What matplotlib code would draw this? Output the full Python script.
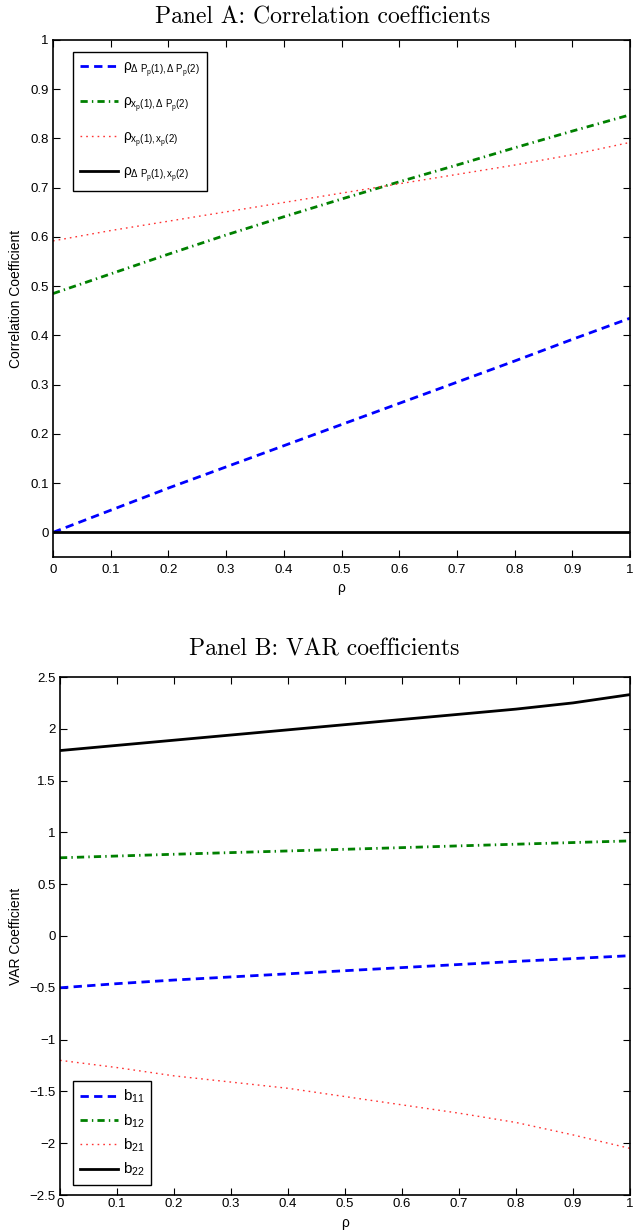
import numpy as np
import matplotlib
matplotlib.use("Agg")
import matplotlib.pyplot as plt
from matplotlib.ticker import FuncFormatter, MultipleLocator

plt.rcParams['font.family'] = ['Liberation Sans', 'DejaVu Sans']
plt.rcParams['mathtext.fontset'] = 'custom'
plt.rcParams['mathtext.rm'] = 'Liberation Sans'
plt.rcParams['mathtext.it'] = 'Liberation Sans'
plt.rcParams['mathtext.bf'] = 'Liberation Sans'

# ---------------- data ----------------
rho = [0.0, 0.1, 0.2, 0.3, 0.4, 0.5, 0.6, 0.7, 0.8, 0.9, 1.0]

# Panel A: correlation coefficients
corr_dP_dP = [0.0, 0.045, 0.09, 0.133, 0.176, 0.219, 0.262, 0.305, 0.348, 0.392, 0.435]
corr_x_dP = [0.485, 0.525, 0.565, 0.604, 0.641, 0.677, 0.712, 0.746, 0.781, 0.815, 0.848]
corr_x_x = [0.592, 0.613, 0.632, 0.651, 0.670, 0.689, 0.708, 0.727, 0.746, 0.767, 0.792]
corr_dP_x = [0.0, 0.0, 0.0, 0.0, 0.0, 0.0, 0.0, 0.0, 0.0, 0.0, 0.0]

labels_A = [r'$\rho_{\Delta\ P_p(1),\Delta\ P_p(2)}$',
            r'$\rho_{x_p(1),\Delta\ P_p(2)}$',
            r'$\rho_{x_p(1),x_p(2)}$',
            r'$\rho_{\Delta\ P_p(1),x_p(2)}$']

# Panel B: VAR coefficients
b11 = [-0.50, -0.46, -0.425, -0.395, -0.365, -0.335, -0.305, -0.275, -0.245, -0.218, -0.19]
b12 = [0.755, 0.772, 0.789, 0.805, 0.821, 0.837, 0.853, 0.870, 0.886, 0.902, 0.918]
b21 = [-1.20, -1.27, -1.35, -1.41, -1.47, -1.55, -1.63, -1.71, -1.80, -1.92, -2.05]
b22 = [1.79, 1.84, 1.89, 1.94, 1.99, 2.04, 2.09, 2.14, 2.19, 2.25, 2.33]
labels_B = [r'$b_{11}$', r'$b_{12}$', r'$b_{21}$', r'$b_{22}$']

xticks = [0, 0.1, 0.2, 0.3, 0.4, 0.5, 0.6, 0.7, 0.8, 0.9, 1]

# ---------------- styles ----------------
styles = [
    dict(color='#0000ff', lw=2.0, dashes=(3.0, 1.9)),
    dict(color='#008000', lw=2.0, dashes=(2.6, 1.5, 0.5, 1.5)),
    dict(color='#ff3333', lw=1.0, dashes=(1.2, 2.9)),
    dict(color='#000000', lw=2.0, linestyle='-'),
]

fmt = FuncFormatter(lambda v, p: ('%g' % round(v, 6)).replace('-', '\u2212'))

fig = plt.figure(figsize=(6.33, 12.32), dpi=100)


def style_axes(ax, xpad):
    ax.tick_params(direction='in', top=True, right=True, length=5, width=0.8,
                   labelsize=9.5)
    ax.tick_params(axis='y', pad=3)
    ax.tick_params(axis='x', pad=xpad)
    for s in ax.spines.values():
        s.set_linewidth(1.2)
    ax.xaxis.set_major_formatter(fmt)
    ax.yaxis.set_major_formatter(fmt)


# Panel A
axA = fig.add_axes([53 / 633, 1 - 557 / 1232, 577 / 633, 517 / 1232])
seriesA = [corr_dP_dP, corr_x_dP, corr_x_x, corr_dP_x]
for y, st, lab in zip(seriesA, styles, labels_A):
    axA.plot(rho, y, label=lab, **st)
axA.set_xlim(0, 1)
axA.set_ylim(-0.05, 1)
axA.set_xticks(xticks)
axA.yaxis.set_major_locator(MultipleLocator(0.1))
style_axes(axA, 5)
axA.set_xlabel('ρ', fontsize=10)
axA.xaxis.label.set_va('center')
axA.xaxis.set_label_coords(0.5, -0.06)
axA.set_ylabel('Correlation Coefficient', fontsize=10)
axA.yaxis.set_label_coords(-0.052, 0.5)
fig.text(323 / 633, 1 - 24 / 1232, 'Panel A: Correlation coefficients',
         fontfamily='cmr10', fontsize=17, ha='center', va='baseline')
legA = axA.legend(loc='upper left', fontsize=10, handlelength=2.75,
                  labelspacing=1.15, borderpad=0.55, handletextpad=0.3,
                  borderaxespad=0, fancybox=False, edgecolor='black',
                  framealpha=1, bbox_to_anchor=(0.034, 0.977))
legA.get_frame().set_linewidth(1.0)

# Panel B
axB = fig.add_axes([60 / 633, 1 - 1195 / 1232, 570 / 633, 518 / 1232])
seriesB = [b11, b12, b21, b22]
for y, st, lab in zip(seriesB, styles, labels_B):
    axB.plot(rho, y, label=lab, **st)
axB.set_xlim(0, 1)
axB.set_ylim(-2.5, 2.5)
axB.set_xticks(xticks)
axB.yaxis.set_major_locator(MultipleLocator(0.5))
style_axes(axB, 2)
axB.set_xlabel('ρ', fontsize=10)
axB.xaxis.label.set_va('center')
axB.xaxis.set_label_coords(0.5, -0.054)
axB.set_ylabel('VAR Coefficient', fontsize=10)
axB.yaxis.set_label_coords(-0.065, 0.5)
fig.text(324 / 633, 1 - 656 / 1232, 'Panel B: VAR coefficients',
         fontfamily='cmr10', fontsize=17, ha='center', va='baseline')
legB = axB.legend(loc='lower left', fontsize=11, handlelength=2.5,
                  labelspacing=0.45, borderpad=0.45, handletextpad=0.3,
                  borderaxespad=0, fancybox=False, edgecolor='black',
                  framealpha=1, bbox_to_anchor=(0.023, 0.019))
legB.get_frame().set_linewidth(1.0)

fig.savefig('out.png', dpi=100)
